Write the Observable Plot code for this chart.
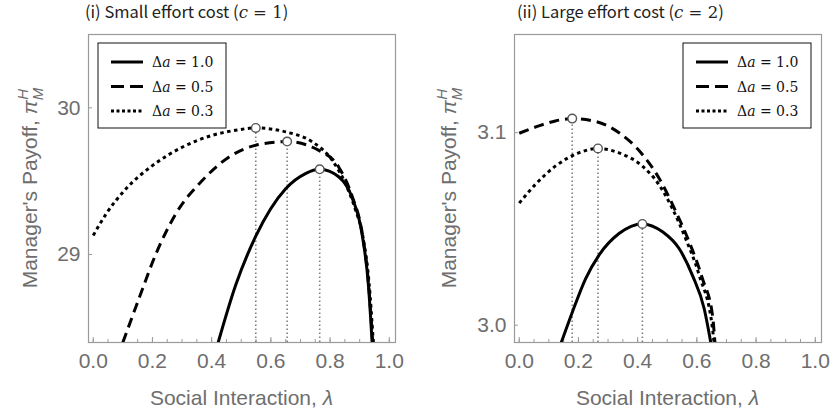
<!DOCTYPE html>
<html>
<head>
<meta charset="utf-8">
<script src="https://cdn.jsdelivr.net/npm/d3@7"></script>
<script src="https://cdn.jsdelivr.net/npm/@observablehq/plot@0.6"></script>
<style>
  body { margin: 0; background: white; }
  #wrap { display: flex; width: 830px; height: 417px; }
</style>
</head>
<body>
<div id="wrap"></div>
<script>
// ---- data ----
const xTicks = [0, 0.2, 0.4, 0.6, 0.8, 1.0];
const xMinorTicks = [0,0.05,0.1,0.15,0.2,0.25,0.3,0.35,0.4,0.45,0.5,0.55,0.6,0.65,0.7,0.75,0.8,0.85,0.9,0.95,1.0];
const yTicksC1 = [29, 30];
const yTicksC2 = [3.0, 3.1];
const seriesNames = ["Δa = 1.0", "Δa = 0.5", "Δa = 0.3"];
const legendValues = ["1.0", "0.5", "0.3"];

// panel (i): c = 1
const lamC1_10 = [0.422, 0.481, 0.549, 0.650, 0.717, 0.765, 0.829, 0.874, 0.908, 0.930, 0.942];
const payC1_10 = [28.40, 28.790, 29.125, 29.449, 29.552, 29.581, 29.53, 29.39, 29.14, 28.78, 28.40];
const lamC1_05 = [0.100, 0.156, 0.212, 0.279, 0.369, 0.459, 0.549, 0.655, 0.762, 0.829, 0.874, 0.908, 0.930, 0.944];
const payC1_05 = [28.40, 28.708, 29.005, 29.278, 29.506, 29.665, 29.745, 29.77, 29.71, 29.597, 29.40, 29.15, 28.80, 28.40];
const lamC1_03 = [0.0, 0.044, 0.111, 0.201, 0.302, 0.403, 0.481, 0.549, 0.650, 0.740, 0.807, 0.852, 0.885, 0.912, 0.932, 0.946];
const payC1_03 = [29.13, 29.278, 29.449, 29.608, 29.733, 29.813, 29.847, 29.863, 29.836, 29.768, 29.643, 29.483, 29.31, 29.11, 28.80, 28.40];
const peakLamC1 = [0.765, 0.655, 0.549];
const peakPayC1 = [29.581, 29.77, 29.863];

// panel (ii): c = 2
const lamC2_10 = [0.142, 0.179, 0.224, 0.269, 0.337, 0.416, 0.484, 0.540, 0.585, 0.625, 0.647];
const payC2_10 = [2.991, 3.0066, 3.0241, 3.0363, 3.0476, 3.0526, 3.0485, 3.0398, 3.0259, 3.0084, 2.991];
const lamC2_05 = [0.0, 0.066, 0.122, 0.179, 0.258, 0.337, 0.416, 0.472, 0.529, 0.574, 0.619, 0.653, 0.661];
const payC2_05 = [3.0997, 3.1035, 3.1061, 3.1073, 3.1058, 3.1000, 3.0887, 3.0764, 3.059, 3.0433, 3.0241, 3.0049, 2.991];
const lamC2_03 = [0.0, 0.054, 0.122, 0.201, 0.266, 0.337, 0.416, 0.472, 0.517, 0.562, 0.608, 0.653, 0.658];
const payC2_03 = [3.0634, 3.073, 3.0826, 3.0895, 3.0918, 3.0895, 3.0826, 3.073, 3.0607, 3.045, 3.0259, 2.998, 2.991];
const peakLamC2 = [0.416, 0.179, 0.266];
const peakPayC2 = [3.0526, 3.1073, 3.0918];

// ---- styling ----
const dashes = [null, "10,6", "3.5,3.5"];
const legendDashes = [null, "13,6", "3,2.5"];
const gray = "#6e6e6e";
const frameGray = "#9a9a9a";

function panel(cfg) {
  const W = 415, H = 417;
  const mL = cfg.marginLeft, mR = cfg.marginRight, mT = 34, mB = 75;
  const curves = [
    [cfg.lam10, cfg.pay10],
    [cfg.lam05, cfg.pay05],
    [cfg.lam03, cfg.pay03]
  ];
  const svg = Plot.plot({
    width: W, height: H,
    marginLeft: mL, marginRight: mR, marginTop: mT, marginBottom: mB,
    style: {fontFamily: "'Liberation Sans', Arial, sans-serif", fontSize: "21px", color: gray, background: "white", overflow: "visible"},
    x: {domain: [-0.016, 1.021]},
    y: {domain: cfg.yDomain},
    marks: [
      Plot.frame({stroke: frameGray, strokeWidth: 1.2}),
      Plot.axisX({ticks: xMinorTicks, tickSize: -3, text: null, stroke: frameGray}),
      Plot.axisX({ticks: xTicks, tickSize: -5, tickPadding: 16, tickFormat: d3.format(".1f"), stroke: frameGray, fill: gray, label: null}),
      Plot.axisY({ticks: cfg.yTicks, tickSize: -4, tickPadding: 12, tickFormat: cfg.yFormat, stroke: frameGray, fill: gray, label: null}),
      Plot.ruleX({length: 3}, {x: cfg.peakLam, y1: () => cfg.yDomain[0], y2: cfg.peakPay, stroke: "#808080", strokeWidth: 1.6, strokeDasharray: "1.6,2.4"}),
      ...curves.map(([l, p], i) => Plot.line({length: l.length}, {
        x: l, y: p, curve: "monotone-x", stroke: "black", strokeWidth: 3,
        strokeLinecap: "butt", strokeDasharray: dashes[i], clip: true
      })),
      Plot.dot({length: 3}, {x: cfg.peakLam, y: cfg.peakPay, r: 4.3, fill: "white", stroke: "#555", strokeWidth: 1.4})
    ]
  });
  const s = d3.select(svg);
  const cx = mL + (W - mL - mR) / 2;
  // title
  const t = s.append("text").attr("x", cfg.titleX).attr("y", 18).attr("text-anchor", "start")
    .attr("fill", "#222").style("font-family", "'Noto Sans CJK JP', 'Noto Sans', sans-serif").style("font-size", "16.5px");
  t.append("tspan").text(cfg.titlePre + " (");
  t.append("tspan").text("c").style("font-family", "'DejaVu Serif', serif").style("font-style", "italic");
  t.append("tspan").text(" = " + cfg.cValue).style("font-family", "'DejaVu Serif', serif");
  t.append("tspan").text(")");
  // x label
  const xl = s.append("text").attr("x", cx).attr("y", 405).attr("text-anchor", "middle")
    .attr("fill", gray).style("font-size", "21px");
  xl.append("tspan").text("Social Interaction, ");
  xl.append("tspan").text("λ").style("font-style", "italic");
  // y label
  const yl = s.append("text").attr("transform", `translate(${cfg.yLabelX},188) rotate(-90)`)
    .attr("text-anchor", "middle").attr("fill", gray).style("font-size", "21px");
  yl.append("tspan").text("Manager's Payoff, ");
  yl.append("tspan").text("π").style("font-style", "italic");
  yl.append("tspan").text("M").style("font-style", "italic").style("font-size", "15px").attr("dy", 6);
  yl.append("tspan").text("H").style("font-style", "italic").style("font-size", "15px").attr("dx", -12).attr("dy", -15);
  // legend
  const lg = s.append("g").attr("transform", `translate(${cfg.legendX},43)`);
  lg.append("rect").attr("width", 128).attr("height", 85).attr("fill", "white").attr("stroke", "#111").attr("stroke-width", 1);
  seriesNames.forEach((name, i) => {
    const y = 19 + i * 24.5;
    const ln = lg.append("line").attr("x1", 13).attr("x2", 45).attr("y1", y).attr("y2", y)
      .attr("stroke", "black").attr("stroke-width", 3).attr("stroke-linecap", "butt");
    if (legendDashes[i]) ln.attr("stroke-dasharray", legendDashes[i]);
    const tx = lg.append("text").attr("x", 54).attr("y", y + 5).attr("text-anchor", "start").attr("fill", "#111")
      .style("font-family", "'DejaVu Serif', serif").style("font-size", "14px");
    tx.append("tspan").text("Δ");
    tx.append("tspan").text("a").style("font-style", "italic");
    tx.append("tspan").text(" = " + legendValues[i]);
  });
  return svg;
}

const wrap = document.getElementById("wrap");
wrap.append(panel({
  marginLeft: 88, marginRight: 20, yDomain: [28.4, 30.5], yTicks: yTicksC1, yFormat: d3.format("d"),
  lam10: lamC1_10, pay10: payC1_10, lam05: lamC1_05, pay05: payC1_05, lam03: lamC1_03, pay03: payC1_03,
  peakLam: peakLamC1, peakPay: peakPayC1,
  titleX: 85, titlePre: "(i) Small effort cost", cValue: "1",
  yLabelX: 37, legendX: 98
}));
wrap.append(panel({
  marginLeft: 99, marginRight: 9, yDomain: [2.991, 3.151], yTicks: yTicksC2, yFormat: d3.format(".1f"),
  lam10: lamC2_10, pay10: payC2_10, lam05: lamC2_05, pay05: payC2_05, lam03: lamC2_03, pay03: payC2_03,
  peakLam: peakLamC2, peakPay: peakPayC2,
  titleX: 102, titlePre: "(ii) Large effort cost", cValue: "2",
  yLabelX: 41, legendX: 268
}));
</script>
</body>
</html>
